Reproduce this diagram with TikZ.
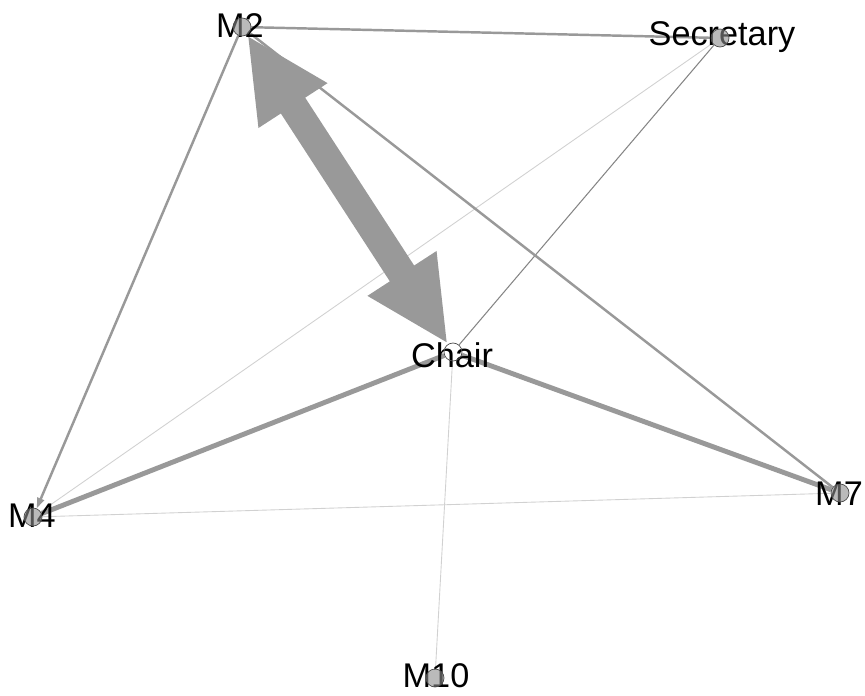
\documentclass[tikz,border=0pt]{standalone}
\usepackage{fontspec}
\setmainfont{Liberation Sans}
\usetikzlibrary{arrows.meta,backgrounds}
\tikzset{
  txt/.style={font=\fontsize{19.5}{20}\selectfont,inner sep=0pt},
  vert/.style={circle,draw=black!70,fill=black!45,fill opacity=0.6,
    minimum size=0.36cm,inner sep=0pt},
  hub/.style={vert,fill=none},
  big/.style={draw=black!40,line width=16.5pt,
    {Triangle[length=48pt,width=43pt]}-{Triangle[length=48pt,width=43pt]}},
  heavy/.style={draw=black!40,line width=2.8pt},
  med/.style={draw=black!40,line width=1.4pt},
  thin/.style={draw=black!48,line width=0.6pt},
  faint/.style={draw=black!18,line width=0.5pt}
}
\begin{document}
\begin{tikzpicture}[x=0.02cm,y=-0.02cm]
  \useasboundingbox (0,0) rectangle (865,696);
  % names
  \node [txt] (m2t) at (240,26) {M2};
  \node [txt] (sect) at (722,37) {Secretary};
  \node [txt] (chairt) at (452,355) {Chair};
  \node [txt] (m4t) at (32,516) {M4};
  \node [txt] (m7t) at (839,494) {M7};
  \node [txt] (m10t) at (436,676) {M10};
  % vertices
  \node [vert] (m2) at (242,27) {};
  \node [vert] (sec) at (720,38) {};
  \node [hub] (chair) at (453,352) {};
  \node [vert] (m4) at (33,517) {};
  \node [vert] (m7) at (840,493) {};
  \node [vert] (m10) at (435,678) {};

  \begin{scope}[on background layer]
    \draw[faint] (sec) -- (m4);
    \draw[faint] (chair) -- (m10);
    \draw[faint] (m4) -- (m7);
    \draw[thin] (sec) -- (chair);
    \draw[med] (m2) -- (sec);
    \draw[med,-{Triangle[length=6pt,width=4pt]}] (m2) -- (m4);
    \draw[med] (m2) -- (m7);
    \draw[heavy] (chair) -- (m4);
    \draw[heavy] (chair) -- (m7);
    \draw[big] (m2) -- (chair);
  \end{scope}
\end{tikzpicture}
\end{document}
